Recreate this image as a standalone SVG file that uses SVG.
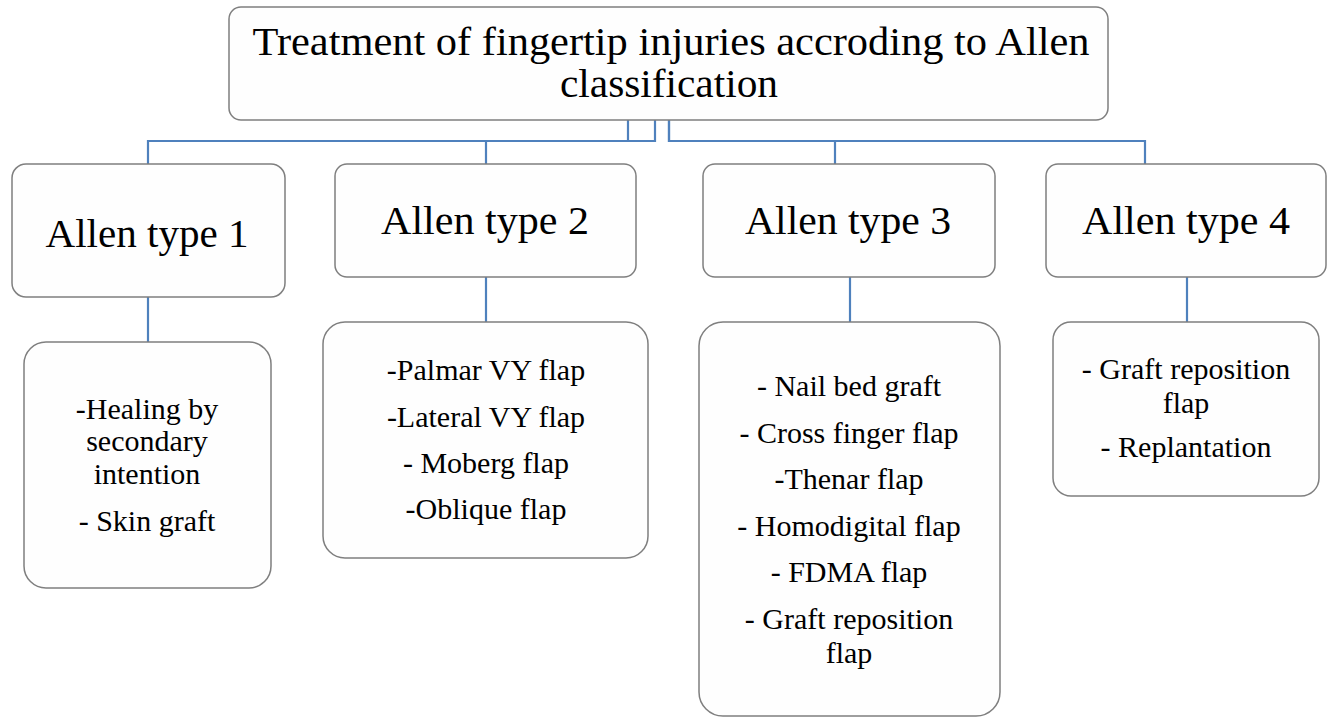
<svg xmlns="http://www.w3.org/2000/svg" width="1333" height="717" viewBox="0 0 1333 717">
<style>
.box{fill:#fefefe;stroke:#7f7f7f;stroke-width:1.5}
.conn{fill:none;stroke:#4f81bd;stroke-width:2.2}
.t{font-family:"Liberation Serif","Times New Roman",serif;fill:#000;text-anchor:middle}
.title{font-size:40px}
.l2{font-size:41px}
.l3{font-size:30px}
</style>
<rect width="1333" height="717" fill="#ffffff"/>
<g id="connectors">
<path class="conn" d="M628 120 V141 H148 V164"/>
<path class="conn" d="M655 120 V141 H486 V164"/>
<path class="conn" d="M669 120 V141 H835 V164"/>
<path class="conn" d="M669 120 V141 H1145 V164"/>
<path class="conn" d="M148 297 V342"/>
<path class="conn" d="M486 277 V322"/>
<path class="conn" d="M850 277 V322"/>
<path class="conn" d="M1187 277 V322"/>
</g>
<g id="root">
<rect class="box" x="229" y="7" width="879" height="113" rx="12"/>
<text class="t title" x="671" y="55" textLength="837" lengthAdjust="spacingAndGlyphs">Treatment of fingertip injuries accroding to Allen</text>
<text class="t title" x="669" y="97" textLength="218" lengthAdjust="spacingAndGlyphs">classification</text>
</g>
<g id="type1">
<rect class="box" x="12" y="164" width="273" height="133" rx="14"/>
<text class="t l2" x="147" y="247" textLength="203" lengthAdjust="spacingAndGlyphs">Allen type 1</text>
</g>
<g id="type2">
<rect class="box" x="335" y="164" width="301" height="113" rx="12"/>
<text class="t l2" x="485" y="234" textLength="208" lengthAdjust="spacingAndGlyphs">Allen type 2</text>
</g>
<g id="type3">
<rect class="box" x="703" y="164" width="292" height="113" rx="12"/>
<text class="t l2" x="848" y="234" textLength="206" lengthAdjust="spacingAndGlyphs">Allen type 3</text>
</g>
<g id="type4">
<rect class="box" x="1046" y="164" width="280" height="113" rx="12"/>
<text class="t l2" x="1186" y="234" textLength="208" lengthAdjust="spacingAndGlyphs">Allen type 4</text>
</g>
<g id="treat1">
<rect class="box" x="24" y="342" width="247" height="246" rx="22"/>
<text class="t l3" x="147" y="419">-Healing by</text>
<text class="t l3" x="147" y="451">secondary</text>
<text class="t l3" x="147" y="484">intention</text>
<text class="t l3" x="147" y="531">- Skin graft</text>
</g>
<g id="treat2">
<rect class="box" x="323" y="322" width="325" height="236" rx="22"/>
<text class="t l3" x="486" y="380">-Palmar VY flap</text>
<text class="t l3" x="486" y="427">-Lateral VY flap</text>
<text class="t l3" x="486" y="473">- Moberg flap</text>
<text class="t l3" x="486" y="519">-Oblique flap</text>
</g>
<g id="treat3">
<rect class="box" x="699" y="322" width="301" height="394" rx="24"/>
<text class="t l3" x="849" y="396">- Nail bed graft</text>
<text class="t l3" x="849" y="443">- Cross finger flap</text>
<text class="t l3" x="849" y="489">-Thenar flap</text>
<text class="t l3" x="849" y="536">- Homodigital flap</text>
<text class="t l3" x="849" y="582">- FDMA flap</text>
<text class="t l3" x="849" y="629">- Graft reposition</text>
<text class="t l3" x="849" y="663">flap</text>
</g>
<g id="treat4">
<rect class="box" x="1053" y="322" width="266" height="174" rx="18"/>
<text class="t l3" x="1186" y="379">- Graft reposition</text>
<text class="t l3" x="1186" y="413">flap</text>
<text class="t l3" x="1186" y="457">- Replantation</text>
</g>
</svg>
